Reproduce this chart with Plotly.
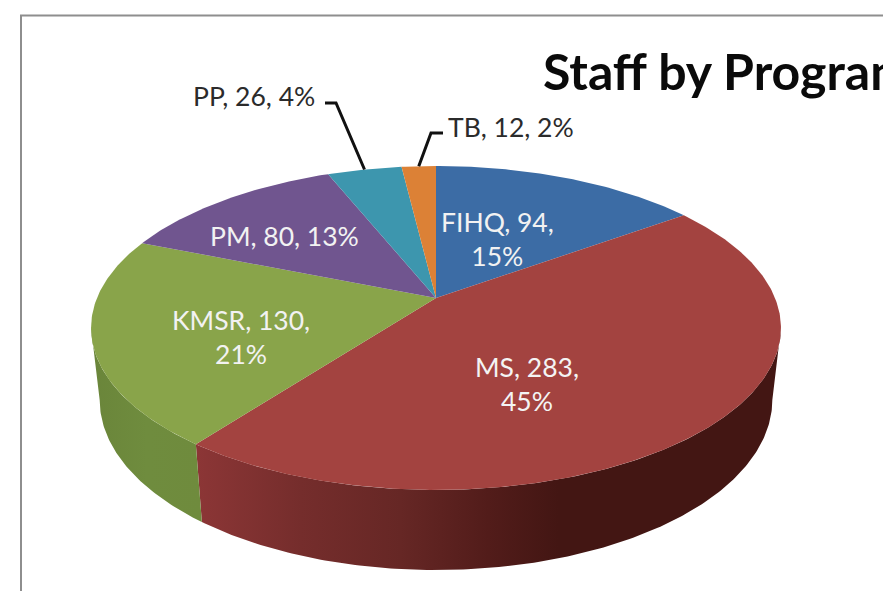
import math
import plotly.graph_objects as go

# ---- data ----
categories = ["FIHQ", "MS", "KMSR", "PM", "PP", "TB"]
staff = [94, 283, 130, 80, 26, 12]
percent_labels = [15, 45, 21, 13, 4, 2]
title_text = "Staff by Program"

# ---- styling ----
top_colors = ["#3c6ca5", "#a34340", "#89a44a", "#70558f", "#3d96ae", "#dc8136"]
side_stops = {
    "MS": [[0, "#8c3636"], [0.18, "#752d2c"], [0.35, "#662725"], [0.5, "#521c1a"],
           [0.62, "#431613"], [1, "#431613"]],
    "KMSR": [[0, "#6a853a"], [0.5, "#6f8c3e"], [1, "#6f8b3d"]],
}
line_break = {"FIHQ": True, "MS": True, "KMSR": True, "PM": False, "PP": False, "TB": False}
label_layout = {
    "FIHQ": (497, 239, "center", "#f2f2f2"),
    "MS": (527, 384, "center", "#f4f4f4"),
    "KMSR": (241, 337, "center", "#f2f2f2"),
    "PM": (284, 236, "center", "#f2f2f2"),
    "PP": (254, 96, "center", "#2b2b2b"),
    "TB": (511, 127, "center", "#2b2b2b"),
}
leaders = {"PP": [(325, 103), (336, 103)], "TB": [(443, 133), (431, 133)]}

# projection of the pie disc onto the page (perspective)
CX, CY, RX, RY, K = 436, 298, 339, 156.4, 0.185
SHRINK = 0.975
WIDEST = math.acos(-K)  # angle at which the disc's outline is widest on the page


def top_pt(theta):
    X, Y = math.sin(theta), math.cos(theta)
    s = 1 / (1 + K * Y)
    return CX + RX * X * s, CY - RY * Y * s


def bottom_pt(theta):
    x, y = top_pt(theta)
    return CX + (x - CX) * SHRINK, y + 72 + (y - 328) * 0.05


def arc(f, a0, a1):
    n = max(2, int(abs(a1 - a0) * 90))
    return [f(a0 + (a1 - a0) * i / n) for i in range(n + 1)]


total = sum(staff)
edges = [0]
for v in staff:
    edges.append(edges[-1] + v / total * 2 * math.pi)

fig = go.Figure()

# chart-area border, cropped by the picture
fig.add_trace(go.Scatter(x=[21, 21, 883], y=[591, 15.5, 15.5], mode="lines",
                         line=dict(color="#8e8e8e", width=2), hoverinfo="skip"))

# side walls: only the front half of the rim shows, from one widest point to the other
front0, front1 = WIDEST, 2 * math.pi - WIDEST
for i, c in enumerate(categories):
    if c not in side_stops:
        continue
    a0, a1 = max(edges[i], front0), min(edges[i + 1], front1)
    pts = arc(top_pt, a0, a1) + arc(bottom_pt, a1, a0)
    fig.add_trace(go.Scatter(
        x=[p[0] for p in pts] + [pts[0][0]], y=[p[1] for p in pts] + [pts[0][1]],
        mode="lines", line=dict(width=0), fill="toself",
        fillgradient=dict(type="horizontal", colorscale=side_stops[c]),
        hoverinfo="skip"))

# top face
for i, c in enumerate(categories):
    pts = [(CX, CY)] + arc(top_pt, edges[i], edges[i + 1]) + [(CX, CY)]
    fig.add_trace(go.Scatter(
        x=[p[0] for p in pts], y=[p[1] for p in pts], mode="lines",
        line=dict(width=0), fill="toself", fillcolor=top_colors[i], hoverinfo="skip"))

# leader lines
for c, elbow in leaders.items():
    i = categories.index(c)
    tip = top_pt((edges[i] + edges[i + 1]) / 2)
    pts = elbow + [tip]
    fig.add_trace(go.Scatter(x=[p[0] for p in pts], y=[p[1] for p in pts], mode="lines",
                             line=dict(color="#111111", width=3), hoverinfo="skip"))

# labels
for c, v, p in zip(categories, staff, percent_labels):
    x, y, anchor, color = label_layout[c]
    sep = ",<br>" if line_break[c] else ", "
    fig.add_annotation(x=x, y=y, xref="x", yref="y", text=f"{c}, {v}{sep}{p}%",
                       showarrow=False, xanchor=anchor, yanchor="middle",
                       font=dict(family="Lato", size=26.5, color=color))

fig.add_annotation(x=541, y=71, xref="x", yref="y", text=f"<b>{title_text}</b>",
                   showarrow=False, xanchor="left", yanchor="middle",
                   font=dict(family="Lato", size=50, color="#0a0a0a"))

fig.update_layout(
    width=883, height=591, margin=dict(l=0, r=0, t=0, b=0), showlegend=False,
    paper_bgcolor="white", plot_bgcolor="white",
    xaxis=dict(range=[0, 883], visible=False, fixedrange=True),
    yaxis=dict(range=[591, 0], visible=False, fixedrange=True),
)
fig.write_html("out.html", config={"displayModeBar": False},
               post_script="document.body.style.margin='0';document.body.style.overflow='hidden';")
